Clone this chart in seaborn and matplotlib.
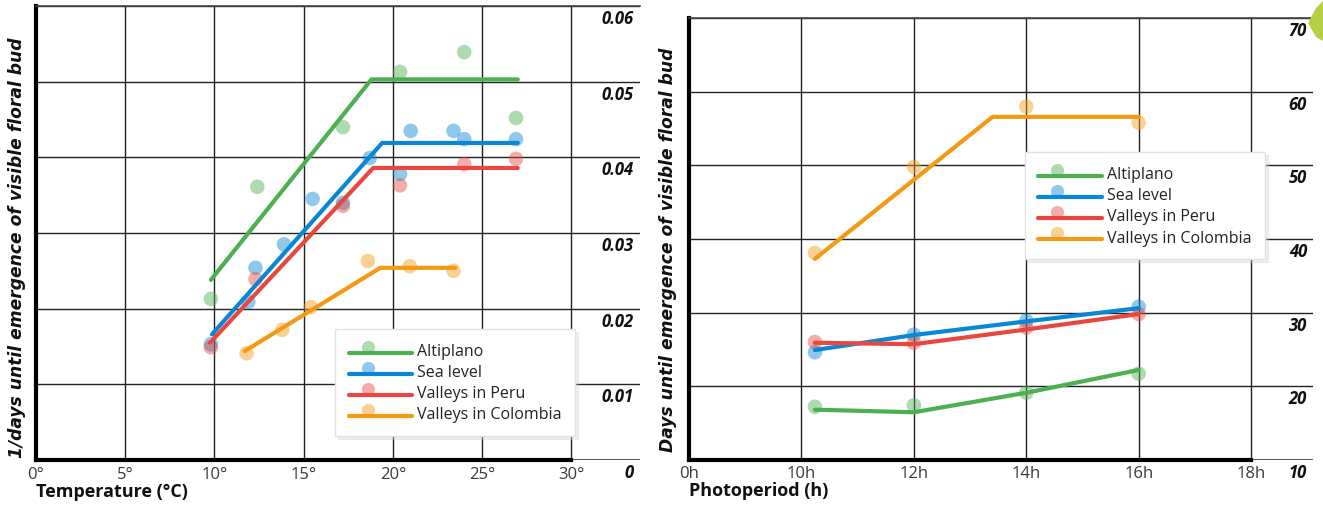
import numpy as np
import pandas as pd
import matplotlib
matplotlib.use("Agg")
import matplotlib.pyplot as plt
import matplotlib.transforms as mtransforms
from matplotlib.lines import Line2D
from matplotlib.patches import Polygon
from matplotlib.legend_handler import HandlerBase
import seaborn as sns

# ---------------- data ----------------
series = ["Altiplano", "Sea level", "Valleys in Peru", "Valleys in Colombia"]
colors = ["#4caf50", "#0a86d6", "#e8473f", "#f39914"]

# Left panel: temperature (°C) vs 1/days
temp_pts_x = {
    "Altiplano": [9.8, 12.4, 17.2, 20.4, 24.0, 26.9],
    "Sea level": [9.8, 11.9, 12.3, 13.9, 15.5, 17.2, 18.7, 20.4, 21.0, 23.4, 24.0, 26.9],
    "Valleys in Peru": [9.8, 12.3, 17.2, 20.4, 24.0, 26.9],
    "Valleys in Colombia": [11.8, 13.8, 15.4, 18.6, 20.95, 23.4],
}
temp_pts_y = {
    "Altiplano": [0.0213, 0.0361, 0.0440, 0.0513, 0.0539, 0.0452],
    "Sea level": [0.0153, 0.0209, 0.0254, 0.0285, 0.0345, 0.0340, 0.0399, 0.0378, 0.0435, 0.0435, 0.0424, 0.0424],
    "Valleys in Peru": [0.0149, 0.0239, 0.0336, 0.0363, 0.0391, 0.0398],
    "Valleys in Colombia": [0.0141, 0.0172, 0.0202, 0.0263, 0.0256, 0.0250],
}
temp_fit_x = {
    "Altiplano": [9.8, 18.8, 27.0],
    "Sea level": [9.86, 19.4, 27.0],
    "Valleys in Peru": [9.75, 18.9, 27.0],
    "Valleys in Colombia": [11.7, 19.3, 23.5],
}
temp_fit_y = {
    "Altiplano": [0.0238, 0.0503, 0.0503],
    "Sea level": [0.0166, 0.0419, 0.0419],
    "Valleys in Peru": [0.0155, 0.0386, 0.0386],
    "Valleys in Colombia": [0.0144, 0.0254, 0.0254],
}
temp_xticks = [0, 5, 10, 15, 20, 25, 30]
temp_xticklabels = ["0°", "5°", "10°", "15°", "20°", "25°", "30°"]
temp_yticks = [0, 0.01, 0.02, 0.03, 0.04, 0.05, 0.06]
temp_yticklabels = ["0", "0.01", "0.02", "0.03", "0.04", "0.05", "0.06"]

# Right panel: photoperiod (h) vs days
photo_pts_x = [10.24, 12.0, 14.0, 16.0]
photo_pts_y = {
    "Altiplano": [17.2, 17.4, 19.1, 21.7],
    "Sea level": [24.6, 27.0, 28.9, 30.8],
    "Valleys in Peru": [26.0, 25.9, 27.95, 29.8],
    "Valleys in Colombia": [38.1, 49.8, 58.0, 55.8],
}
photo_fit_x = {
    "Altiplano": [10.24, 12.0, 14.0, 16.0],
    "Sea level": [10.24, 12.0, 14.0, 16.0],
    "Valleys in Peru": [10.24, 12.0, 14.0, 16.0],
    "Valleys in Colombia": [10.24, 13.4, 16.0],
}
photo_fit_y = {
    "Altiplano": [16.8, 16.45, 19.1, 22.2],
    "Sea level": [24.9, 26.95, 28.8, 30.6],
    "Valleys in Peru": [25.9, 25.7, 27.7, 29.8],
    "Valleys in Colombia": [37.3, 56.6, 56.6],
}
photo_xticks = [8, 10, 12, 14, 16, 18]
photo_xticklabels = ["0h", "10h", "12h", "14h", "16h", "18h"]
photo_yticks = [10, 20, 30, 40, 50, 60, 70]
photo_yticklabels = ["10", "20", "30", "40", "50", "60", "70"]

# ---------------- style ----------------
sns.set_theme(style="white")
plt.rcParams["font.family"] = ["Open Sans", "DejaVu Sans"]

W, H = 1323, 506
fig = plt.figure(figsize=(W / 100, H / 100), dpi=100)


def px_axes(x0, y0, x1, y1):
    return fig.add_axes([x0 / W, 1 - y1 / H, (x1 - x0) / W, (y1 - y0) / H])


ax1 = px_axes(36, 7, 640, 461)
ax2 = px_axes(689, 19.3, 1313, 460.7)


def long_df(xd, yd, shared_x=None):
    rows = []
    for s in series:
        xs = shared_x if shared_x is not None else xd[s]
        for x, y in zip(xs, yd[s]):
            rows.append({"x": x, "y": y, "series": s})
    return pd.DataFrame(rows)


palette = dict(zip(series, colors))


class LineDotHandler(HandlerBase):
    def create_artists(self, legend, orig_handle, xdescent, ydescent, width, height, fontsize, trans):
        c = orig_handle.get_color()
        y0 = height * 0.30 - ydescent
        line = Line2D([-xdescent, -xdescent + width], [y0, y0], color=c, lw=3.0,
                      solid_capstyle="round")
        dot = Line2D([-xdescent + width * 0.30], [y0 + height * 0.42], marker="o",
                     markersize=9.5, color=c, alpha=0.45, linestyle="none",
                     markeredgewidth=0)
        line.set_transform(trans)
        dot.set_transform(trans)
        return [dot, line]


def style_axes(ax, xticks, xlabels, xbound, xlim, yticks, ylabels, ylim, xlabel, ylabel,
               ylab_x, ylab_y):
    ax.set_xlim(*xlim)
    ax.set_ylim(*ylim)
    ax.set_xticks(xticks)
    ax.set_xticklabels(xlabels)
    ax.set_yticks(yticks)
    ax.set_yticklabels([])
    ax.grid(True, color="#222222", lw=1.0)
    ax.set_axisbelow(True)
    ax.tick_params(axis="both", length=0)
    ax.tick_params(axis="x", pad=4, labelsize=12, labelcolor="#3a3a3a")
    for side in ["left", "bottom", "top", "right"]:
        ax.spines[side].set_visible(True)
    ax.spines["left"].set_linewidth(3)
    ax.spines["left"].set_color("black")
    ax.spines["bottom"].set_linewidth(3)
    ax.spines["bottom"].set_color("black")
    ax.spines["bottom"].set_bounds(*xbound)
    ax.spines["top"].set_linewidth(1.2)
    ax.spines["top"].set_color("#444444")
    ax.spines["right"].set_visible(False)
    ax.axhline(ylim[0], color="#444444", lw=1.2, zorder=0.5)
    # right-side value labels
    tr = mtransforms.blended_transform_factory(ax.transAxes, ax.transData)
    tr = tr + mtransforms.ScaledTranslation(-6 / 100, -12 / 100, fig.dpi_scale_trans)
    for v, lab in zip(yticks, ylabels):
        ax.text(1.0, v, lab, transform=tr, ha="right", va="center",
                fontsize=12, fontweight="bold", fontstyle="italic", color="#111111")
    ax.set_xlabel(xlabel, loc="left", fontsize=13, fontweight="bold", labelpad=0,
                  color="#111111")
    ax.set_ylabel(ylabel, fontsize=12.3, fontweight="bold", fontstyle="italic",
                  color="#111111", family=["DejaVu Sans"])
    ax.yaxis.set_label_coords(ylab_x, ylab_y)


# ---- left panel ----
pts1 = long_df(temp_pts_x, temp_pts_y)
sns.scatterplot(data=pts1, x="x", y="y", hue="series", palette=palette, s=110,
                alpha=0.45, linewidth=0, legend=False, ax=ax1, zorder=3)
for s in series:
    fit = pd.DataFrame({"x": temp_fit_x[s], "y": temp_fit_y[s]})
    sns.lineplot(data=fit, x="x", y="y", color=palette[s], lw=3, sort=False,
                 estimator=None, ax=ax1, zorder=4)
style_axes(ax1, temp_xticks, temp_xticklabels, (0, 30), (0, 33.85), temp_yticks,
           temp_yticklabels, (0, 0.06), "Temperature (°C)",
           "1/days until emergence of visible floral bud", -0.016, 0.469)

# ---- right panel ----
pts2 = long_df(None, photo_pts_y, shared_x=photo_pts_x)
sns.scatterplot(data=pts2, x="x", y="y", hue="series", palette=palette, s=110,
                alpha=0.45, linewidth=0, legend=False, ax=ax2, zorder=3)
for s in series:
    fit = pd.DataFrame({"x": photo_fit_x[s], "y": photo_fit_y[s]})
    sns.lineplot(data=fit, x="x", y="y", color=palette[s], lw=3, sort=False,
                 estimator=None, ax=ax2, zorder=4)
style_axes(ax2, photo_xticks, photo_xticklabels, (8, 18), (8, 19.1), photo_yticks,
           photo_yticklabels, (10, 70), "Photoperiod (h)",
           "Days until emergence of visible floral bud", -0.020, 0.477)

# ---- legends ----
handles = [Line2D([0], [0], color=c) for c in colors]
for ax, anchor in [(ax1, (0.495, 0.2885)), (ax2, (0.538, 0.697))]:
    leg = ax.legend(handles, series, handler_map={Line2D: LineDotHandler()},
                    loc="upper left", bbox_to_anchor=anchor, borderaxespad=0,
                    fontsize=11.5, frameon=True, fancybox=False, handlelength=4.0,
                    handleheight=1.0, labelspacing=0.28, handletextpad=0.3,
                    borderpad=0.85,
                    shadow={"ox": 2, "oy": -2, "color": "#cccccc", "alpha": 0.3})
    leg.get_frame().set_edgecolor("#e2e2e2")
    leg.get_frame().set_linewidth(1.0)
    leg.set_zorder(10)
    for t in leg.get_texts():
        t.set_color("#222222")

# corner decoration (top right)
fig.patches.append(Polygon([(1323 / W, 1 - 2 / H), (1316 / W, 1 - 9 / H),
                            (1308 / W, 1 - 24 / H), (1316 / W, 1 - 38 / H),
                            (1323 / W, 1 - 42 / H)], closed=True,
                           transform=fig.transFigure, facecolor="#b7cf47",
                           edgecolor="none"))

fig.savefig("out.png", dpi=100)
